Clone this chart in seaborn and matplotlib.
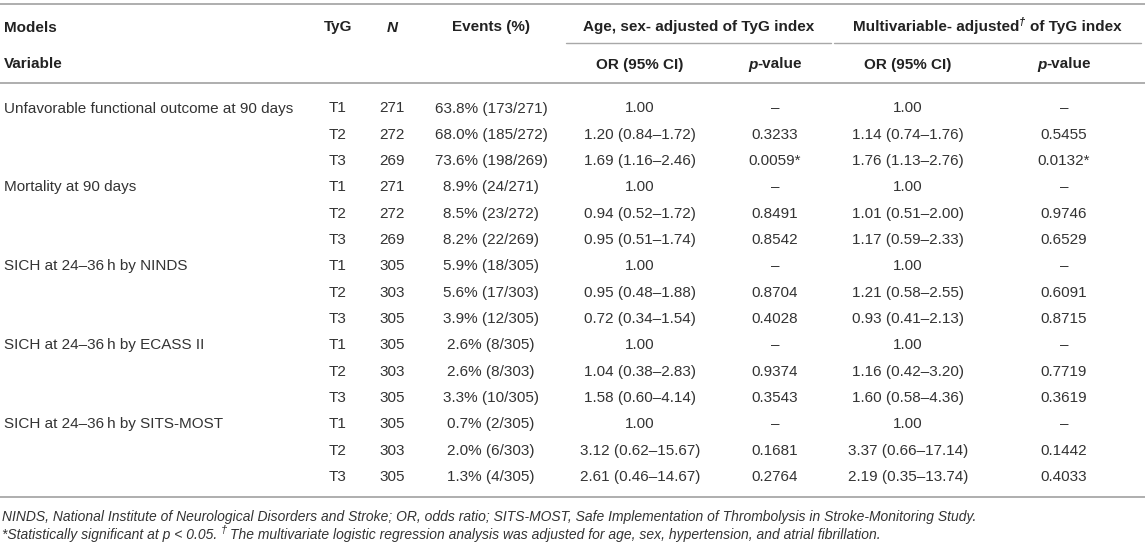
import matplotlib
matplotlib.use("Agg")
import matplotlib.pyplot as plt
import seaborn as sns

# ---------------- data ----------------
variables = ["Unfavorable functional outcome at 90 days", "Mortality at 90 days",
             "SICH at 24\u201336\u2009h by NINDS", "SICH at 24\u201336\u2009h by ECASS II",
             "SICH at 24\u201336\u2009h by SITS-MOST"]
tyg_groups = ["T1", "T2", "T3"]
n_values = [271, 272, 269, 271, 272, 269, 305, 303, 305, 305, 303, 305, 305, 303, 305]
event_pct = [63.8, 68.0, 73.6, 8.9, 8.5, 8.2, 5.9, 5.6, 3.9, 2.6, 2.6, 3.3, 0.7, 2.0, 1.3]
event_counts = [173, 185, 198, 24, 23, 22, 18, 17, 12, 8, 8, 10, 2, 6, 4]

or_age = [1.00, 1.20, 1.69, 1.00, 0.94, 0.95, 1.00, 0.95, 0.72, 1.00, 1.04, 1.58, 1.00, 3.12, 2.61]
lo_age = [None, 0.84, 1.16, None, 0.52, 0.51, None, 0.48, 0.34, None, 0.38, 0.60, None, 0.62, 0.46]
hi_age = [None, 1.72, 2.46, None, 1.72, 1.74, None, 1.88, 1.54, None, 2.83, 4.14, None, 15.67, 14.67]
p_age = [None, 0.3233, 0.0059, None, 0.8491, 0.8542, None, 0.8704, 0.4028, None, 0.9374, 0.3543,
         None, 0.1681, 0.2764]

or_multi = [1.00, 1.14, 1.76, 1.00, 1.01, 1.17, 1.00, 1.21, 0.93, 1.00, 1.16, 1.60, 1.00, 3.37, 2.19]
lo_multi = [None, 0.74, 1.13, None, 0.51, 0.59, None, 0.58, 0.41, None, 0.42, 0.58, None, 0.66, 0.35]
hi_multi = [None, 1.76, 2.76, None, 2.00, 2.33, None, 2.55, 2.13, None, 3.20, 4.36, None, 17.14, 13.74]
p_multi = [None, 0.5455, 0.0132, None, 0.9746, 0.6529, None, 0.6091, 0.8715, None, 0.7719, 0.3619,
           None, 0.1442, 0.4033]

footnote1 = ("NINDS, National Institute of Neurological Disorders and Stroke; OR, odds ratio; "
             "SITS-MOST, Safe Implementation of Thrombolysis in Stroke-Monitoring Study.")
footnote2a = "*Statistically significant at p < 0.05."
footnote2b = ("The multivariate logistic regression analysis was adjusted for age, sex, "
              "hypertension, and atrial fibrillation.")

# ---------------- style ----------------
sns.set_theme(style="white")
plt.rcParams["font.family"] = ["Liberation Sans", "DejaVu Sans"]

W, H = 1145, 546
fig = plt.figure(figsize=(W / 100, H / 100), dpi=100)
ax = fig.add_axes([0, 0, 1, 1])
ax.set_xlim(0, W)
ax.set_ylim(H, 0)
ax.axis("off")
renderer = fig.canvas.get_renderer()

FS = 11
TXT = "#333333"
HDR = "#222222"
LINE = "#a8a8a8"
BASE = 5.5  # offset from visual centre to baseline

def put(x, y, s, ha="center", **kw):
    kw.setdefault("color", TXT)
    kw.setdefault("fontsize", FS)
    ax.text(x, y + BASE, s, ha=ha, va="baseline", **kw)

def runs(x, y, items, ha="center", **common):
    objs, widths = [], []
    for it in items:
        if isinstance(it, (int, float)):
            objs.append(None); widths.append(it); continue
        s, kw, dy = it
        k = dict(common); k.update(kw)
        k.setdefault("color", TXT); k.setdefault("fontsize", FS)
        t = ax.text(0, y + BASE + dy, s, ha="left", va="baseline", **k)
        objs.append(t); widths.append(t.get_window_extent(renderer=renderer).width)
    cur = x if ha == "left" else x - sum(widths) / 2
    for t, w in zip(objs, widths):
        if t is not None:
            t.set_x(cur)
        cur += w

# column centres
X_VAR, X_TYG, X_N, X_EV = 4, 338, 392, 491
X_OR1, X_P1, X_OR2, X_P2 = 640, 775, 908, 1064

# rules
ax.plot([0, W], [4, 4], color=LINE, lw=1.3)
ax.plot([566, 831], [43, 43], color=LINE, lw=1.0)
ax.plot([834, 1141], [43, 43], color=LINE, lw=1.0)
ax.plot([0, W], [83, 83], color=LINE, lw=1.3)
ax.plot([0, W], [497, 497], color=LINE, lw=1.3)

# header row 1
hb = dict(fontweight="bold", color=HDR)
put(X_VAR, 26, "Models", ha="left", **hb)
put(X_TYG, 26, "TyG", **hb)
put(X_N, 26, "N", fontstyle="italic", **hb)
put(X_EV, 26, "Events (%)", **hb)
put(698.5, 26, "Age, sex- adjusted of TyG index", **hb)
runs(987, 26, [("Multivariable- adjusted", {}, 0),
               ("\u2020", dict(fontstyle="italic", fontsize=8), -6),
               4.0, ("of TyG index", {}, 0)], **hb)
# header row 2
put(X_VAR, 63, "Variable", ha="left", **hb)
put(X_OR1, 63, "OR (95% CI)", **hb)
put(X_OR2, 63, "OR (95% CI)", **hb)
for xp in (X_P1, X_P2):
    runs(xp, 63, [("p", dict(fontstyle="italic"), 0), ("-value", {}, 0)], **hb)

# body
def fmt_or(v, lo, hi):
    return f"{v:.2f}" if lo is None else f"{v:.2f} ({lo:.2f}\u2013{hi:.2f})"

def fmt_p(p):
    if p is None:
        return "\u2013"
    return f"{p:.4f}" + ("*" if p < 0.05 else "")

y0, dy = 107, 26.33
for i in range(len(n_values)):
    y = y0 + i * dy
    if i % 3 == 0:
        put(X_VAR, y, variables[i // 3], ha="left")
    put(X_TYG, y, tyg_groups[i % 3])
    put(X_N, y, str(n_values[i]))
    put(X_EV, y, f"{event_pct[i]:.1f}% ({event_counts[i]}/{n_values[i]})")
    put(X_OR1, y, fmt_or(or_age[i], lo_age[i], hi_age[i]))
    put(X_P1, y, fmt_p(p_age[i]))
    put(X_OR2, y, fmt_or(or_multi[i], lo_multi[i], hi_multi[i]))
    put(X_P2, y, fmt_p(p_multi[i]))

# footnotes
fi = dict(fontstyle="italic", fontsize=10)
put(2, 515, footnote1, ha="left", **fi)
runs(2, 533, [(footnote2a, {}, 0), 4.0, ("\u2020", dict(fontsize=8), -5), 2.0,
              (footnote2b, {}, 0)], ha="left", **fi)

fig.savefig("out.png", dpi=100)
